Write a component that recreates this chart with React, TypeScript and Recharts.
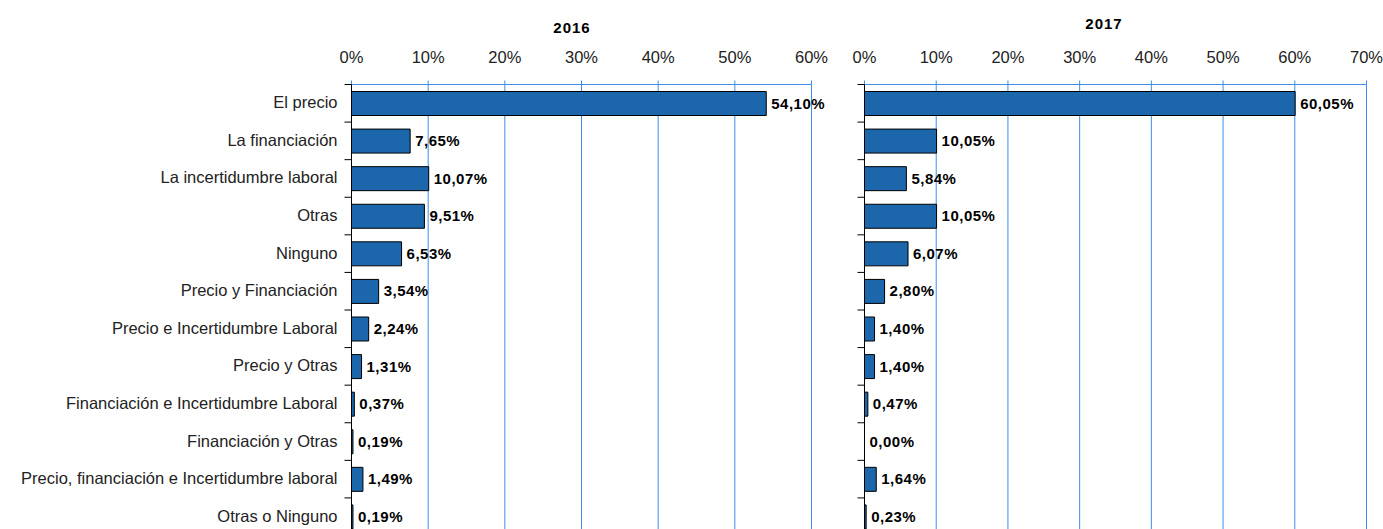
import React from 'react'
import { BarChart, Bar, Cell, XAxis, YAxis, CartesianGrid, LabelList } from 'recharts'

const categories = [
  'El precio',
  'La financiación',
  'La incertidumbre laboral',
  'Otras',
  'Ninguno',
  'Precio y Financiación',
  'Precio e Incertidumbre Laboral',
  'Precio  y Otras',
  'Financiación e Incertidumbre Laboral',
  'Financiación y Otras',
  'Precio, financiación e Incertidumbre laboral',
  'Otras o Ninguno',
]
const values2016 = [54.1, 7.65, 10.07, 9.51, 6.53, 3.54, 2.24, 1.31, 0.37, 0.19, 1.49, 0.19]
const values2017 = [60.05, 10.05, 5.84, 10.05, 6.07, 2.8, 1.4, 1.4, 0.47, 0.0, 1.64, 0.23]
const ticks2016 = [0, 10, 20, 30, 40, 50, 60]
const ticks2017 = [0, 10, 20, 30, 40, 50, 60, 70]

const data = categories.map((name, i) => ({ name, y2016: values2016[i], y2017: values2017[i] }))

const BLUE = '#3d8ee8'
const BAR = '#1c66ab'
const font = 'Arial, "Liberation Sans", sans-serif'

const pct = (v: number) => `${Number(v).toFixed(2).replace('.', ',')}%`

// category tick: label + tick marks on the band edges
const CatTick = ({ x, y, payload, showLabel }: any) => {
  const half = payload?.offset ?? 18.79
  return (
    <g>
      <path d={`M${x + 13},${y - half}H${x + 20}`} stroke="#000" strokeWidth={1} fill="none" />
      {showLabel && (
        <text x={x + 6} y={y} dy={5} textAnchor="end" fontSize={16.5} fill="#222" fontFamily={font}>
          {payload.value}
        </text>
      )}
    </g>
  )
}

// value label, drawn also for zero-width bars
const ValueLabel = ({ x, y, width, height, value }: any) => (
  <text
    x={x + (value > 0 ? width : 0) + 5}
    y={y + height / 2}
    dy={5}
    fontSize={15}
    fontWeight={700}
    fill="#000"
    fontFamily={font}
    letterSpacing={0.5}
  >
    {pct(value)}
  </text>
)

function Panel({ dataKey, ticks, width, yWidth, showLabels, marginRight }: any) {
  const max = ticks[ticks.length - 1]
  return (
    <BarChart
      width={width}
      height={536}
      data={data}
      layout="vertical"
      barSize={24}
      margin={{ top: 0.5, right: marginRight, bottom: 0.5, left: 0.5 }}
    >
      <CartesianGrid stroke={BLUE} horizontal={false} />
      <XAxis
        type="number"
        orientation="top"
        domain={[0, max]}
        ticks={ticks}
        height={84}
        interval={0}
        stroke={BLUE}
        tickSize={4}
        tickMargin={18}
        tickFormatter={(v: number) => `${v}%`}
        tick={{ fontSize: 16.5, fill: '#222', fontFamily: font }}
      />
      <YAxis
        type="category"
        dataKey="name"
        width={yWidth}
        interval={0}
        stroke="#000"
        tickLine={false}
        tickMargin={14}
        tick={<CatTick showLabel={showLabels} />}
      />
      <Bar
        dataKey={dataKey}
        fill={BAR}
        stroke="#000"
        strokeWidth={1}
        minPointSize={(v: number) => (v === 0 ? 1 : 0)}
        isAnimationActive={false}
      >
        {data.map((d: any, i: number) => (
          <Cell key={i} fill={d[dataKey] === 0 ? 'none' : BAR} stroke={d[dataKey] === 0 ? 'none' : '#000'} />
        ))}
        <LabelList dataKey={dataKey} content={<ValueLabel />} />
      </Bar>
    </BarChart>
  )
}

export default function App() {
  return (
    <div style={{ position: 'absolute', top: 0, left: 0, width: 1383, height: 529, overflow: 'hidden', background: '#fff', fontFamily: font }}>
      <div style={{ position: 'absolute', left: 0, top: 0 }}>
        <Panel dataKey="y2016" ticks={ticks2016} width={840} yWidth={351} showLabels marginRight={28.5} />
      </div>
      <div style={{ position: 'absolute', left: 844, top: 0 }}>
        <Panel dataKey="y2017" ticks={ticks2017} width={539} yWidth={20} showLabels={false} marginRight={16.5} />
      </div>
      <div style={{ position: 'absolute', left: 532, top: 19, width: 80, textAlign: 'center', fontWeight: 700, fontSize: 15, letterSpacing: 1 }}>
        2016
      </div>
      <div style={{ position: 'absolute', left: 1064, top: 15, width: 80, textAlign: 'center', fontWeight: 700, fontSize: 15, letterSpacing: 1 }}>
        2017
      </div>
    </div>
  )
}
